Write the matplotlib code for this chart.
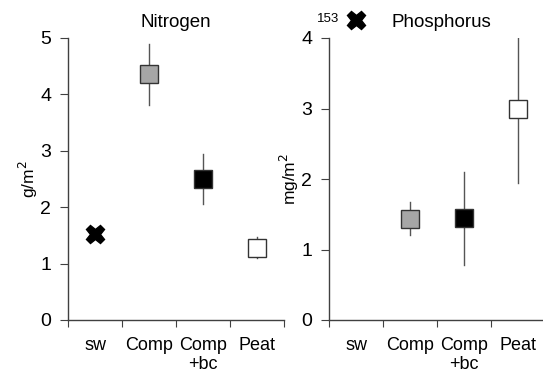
import matplotlib
matplotlib.use("Agg")
import matplotlib.pyplot as plt

plt.rcParams['font.family'] = ['Liberation Sans', 'DejaVu Sans']

categories = ["sw", "Comp", "Comp\n+bc", "Peat"]
n_vals = [1.52, 4.37, 2.50, 1.28]
n_low = [None, 3.82, 2.05, 1.10]
n_high = [None, 4.90, 2.95, 1.48]
p_vals = [153, 1.43, 1.45, 3.00]
p_low = [None, 1.20, 0.78, 1.95]
p_high = [None, 1.67, 2.10, 4.00]
fills = ["black", "#a6a6a6", "black", "white"]

fig = plt.figure(figsize=(5.43, 3.73), dpi=100)
ax1 = fig.add_axes([68/543, 53/373, 216/543, 282/373])
ax2 = fig.add_axes([329/543, 53/373, 216/543, 282/373])

def style(ax, ymax, label, title, tx):
    ax.set_xlim(0.5, 4.5)
    ax.set_ylim(0, ymax)
    for s in ["top", "right"]:
        ax.spines[s].set_visible(False)
    for s in ["left", "bottom"]:
        ax.spines[s].set_color("#404040")
        ax.spines[s].set_linewidth(1.0)
    ax.set_yticks(range(0, int(ymax) + 1))
    ax.tick_params(axis="y", labelsize=14, length=6, color="#404040", pad=6)
    ax.set_xticks([0.5, 1.5, 2.5, 3.5, 4.5])
    ax.set_xticklabels([])
    ax.tick_params(axis="x", length=5, color="#404040")
    ax.set_xticks([1, 2, 3, 4], minor=True)
    ax.set_xticklabels(categories, minor=True, fontsize=13, linespacing=1.15)
    ax.tick_params(axis="x", which="minor", length=0, pad=12)
    ax.set_ylabel(label, fontsize=12.5, labelpad=0)
    ax.text(tx, 1.025, title, transform=ax.transAxes, ha="center", va="bottom", fontsize=13.5)

style(ax1, 5, "g/m$^2$", "Nitrogen", 0.5)
style(ax2, 4, "mg/m$^2$", "Phosphorus", 0.52)

def draw(ax, vals, lows, highs):
    for i in range(1, 4):
        ax.plot([i + 1, i + 1], [lows[i], highs[i]], color="#555555", lw=1.0, zorder=2)
        ax.plot(i + 1, vals[i], marker="s", ms=13, mfc=fills[i], mec="#333333", mew=1.0,
                ls="none", zorder=3)

draw(ax1, n_vals, n_low, n_high)
ax1.plot(1, n_vals[0], marker="X", ms=13, mfc="black", mec="black", ls="none", zorder=3)

draw(ax2, p_vals, p_low, p_high)
ax2.plot(1, 4.26, marker="X", ms=13, mfc="black", mec="black", ls="none", zorder=3, clip_on=False)
ax2.text(0.68, 4.27, str(p_vals[0]), ha="right", va="center", fontsize=9.5)

fig.savefig("out.png", dpi=100)
